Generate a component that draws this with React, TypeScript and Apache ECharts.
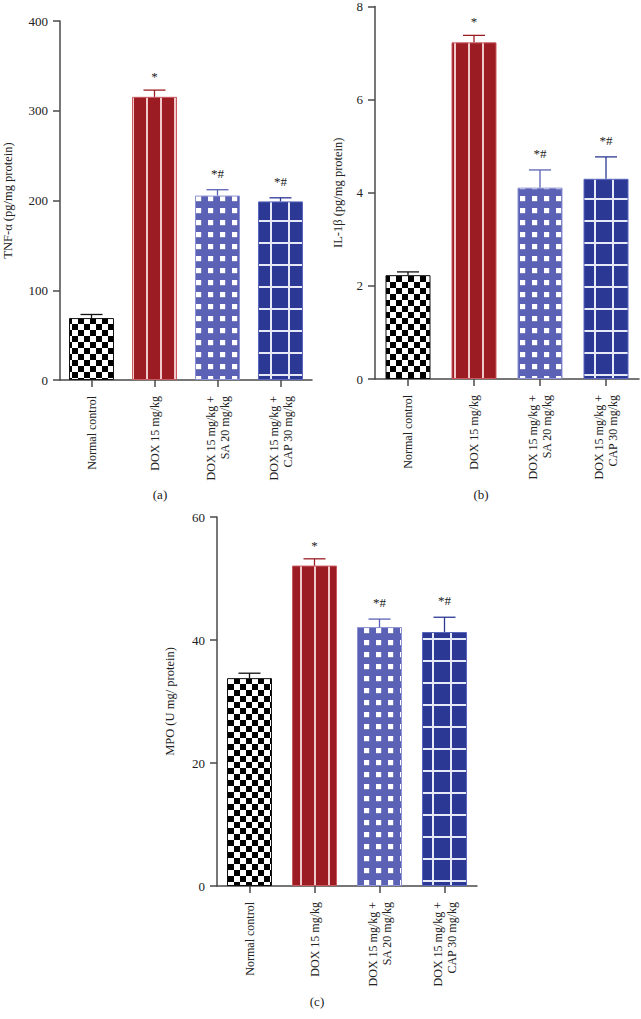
import React, { useEffect, useRef } from "react";
import * as echarts from "echarts";

const categories = ["Normal control", "DOX 15 mg/kg", "DOX 15 mg/kg +\nSA 20 mg/kg", "DOX 15 mg/kg +\nCAP 30 mg/kg"];

const tnfValues = [69, 315.5, 205.5, 199];
const tnfCaps = [73, 323, 212, 203];
const tnfSig = ["", "*", "*#", "*#"];
const tnfTicks = { min: 0, max: 400, interval: 100 };

const ilValues = [2.23, 7.23, 4.11, 4.3];
const ilCaps = [2.3, 7.38, 4.49, 4.77];
const ilSig = ["", "*", "*#", "*#"];
const ilTicks = { min: 0, max: 8, interval: 2 };

const mpoValues = [33.8, 52.1, 42.1, 41.3];
const mpoCaps = [34.6, 53.2, 43.4, 43.7];
const mpoSig = ["", "*", "*#", "*#"];
const mpoTicks = { min: 0, max: 60, interval: 20 };

const panelTitles = ["TNF-α (pg/mg protein)", "IL-1β (pg/mg protein)", "MPO (U mg/ protein)"];
const panelCaptions = ["(a)", "(b)", "(c)"];

const FONT = "'Liberation Serif', 'DejaVu Serif', serif";
const errColors = ["#111111", "#9b1c22", "#5b61b5", "#2b3894"];
const borderColors = ["#111111", "#c95a60", "#8c91d2", "#5966bb"];

// canvases are drawn at 2x because the svg pattern shows them at half size
function makeCanvas(w: number, h: number, draw: (c: CanvasRenderingContext2D) => void) {
  const cv = document.createElement("canvas");
  cv.width = w * 2;
  cv.height = h * 2;
  const ctx = cv.getContext("2d")!;
  ctx.scale(2, 2);
  draw(ctx);
  return cv;
}

export default function App() {
  const ref = useRef<HTMLDivElement>(null);
  useEffect(() => {
    if (!ref.current) return;
    const chart = echarts.init(ref.current, undefined, { renderer: "svg" });

    const checker = makeCanvas(6, 6, (c) => {
      c.fillStyle = "#ffffff";
      c.fillRect(0, 0, 6, 6);
      c.fillStyle = "#000000";
      c.fillRect(0, 0, 3, 3);
      c.fillRect(3, 3, 3, 3);
    });
    const stripes = makeCanvas(7, 4, (c) => {
      c.fillStyle = "#9b1c22";
      c.fillRect(0, 0, 7, 4);
      c.fillStyle = "#f2c9cb";
      c.fillRect(3, 0, 1, 4);
    });
    const dots = makeCanvas(6, 6, (c) => {
      c.fillStyle = "#5b61b5";
      c.fillRect(0, 0, 6, 6);
      c.fillStyle = "#ffffff";
      c.fillRect(2, 2, 2.6, 2.6);
    });
    const grid = makeCanvas(9, 11, (c) => {
      c.fillStyle = "#2b3894";
      c.fillRect(0, 0, 9, 11);
      c.fillStyle = "#e6e9f7";
      c.fillRect(0, 0, 1, 11);
      c.fillRect(0, 0, 9, 1);
    });
    const patterns = [checker, stripes, dots, grid];

    const panels = [
      { values: tnfValues, caps: tnfCaps, sig: tnfSig, ticks: tnfTicks, grid: { left: 59, top: 21, width: 253, height: 359 }, nameGap: 46 },
      { values: ilValues, caps: ilCaps, sig: ilSig, ticks: ilTicks, grid: { left: 375, top: 3, width: 264, height: 376 }, nameGap: 31 },
      { values: mpoValues, caps: mpoCaps, sig: mpoSig, ticks: mpoTicks, grid: { left: 217, top: 517, width: 260, height: 369 }, nameGap: 41 },
    ];

    const axisLine = { show: true, lineStyle: { color: "#4a4a4a", width: 1.5 } };

    const option: any = {
      animation: false,
      backgroundColor: "#ffffff",
      grid: panels.map((p) => ({ ...p.grid, containLabel: false })),
      xAxis: panels.map((p, k) => ({
        type: "category",
        gridIndex: k,
        data: categories,
        boundaryGap: true,
        axisLine,
        axisTick: { show: true, alignWithLabel: true, length: 7, lineStyle: { color: "#4a4a4a", width: 1.5 } },
        axisLabel: { rotate: 90, margin: 16, fontFamily: FONT, fontSize: 12, color: "#222", lineHeight: 14, interval: 0 },
      })),
      yAxis: panels.map((p, k) => ({
        type: "value",
        gridIndex: k,
        min: p.ticks.min,
        max: p.ticks.max,
        interval: p.ticks.interval,
        splitLine: { show: false },
        axisLine,
        axisTick: { show: true, length: 7, lineStyle: { color: "#4a4a4a", width: 1.5 } },
        axisLabel: { margin: 12, fontFamily: FONT, fontSize: 13, color: "#222" },
        name: panelTitles[k],
        nameLocation: "middle",
        nameGap: p.nameGap,
        nameTextStyle: { fontFamily: FONT, fontSize: 12.5, color: "#222" },
      })),
      series: [
        ...panels.map((p, k) => ({
          type: "bar",
          xAxisIndex: k,
          yAxisIndex: k,
          barWidth: 45,
          data: p.values.map((v, i) => ({
            value: v,
            itemStyle: {
              color: { image: patterns[i], repeat: "repeat" },
              borderColor: borderColors[i],
              borderWidth: 1,
            },
          })),
        })),
        ...panels.map((p, k) => ({
          type: "custom",
          xAxisIndex: k,
          yAxisIndex: k,
          z: 5,
          data: p.values.map((v, i) => [i, v, p.caps[i]]),
          renderItem: (params: any, api: any) => {
            const i = params.dataIndex;
            const top = api.coord([i, p.values[i]]);
            const cap = api.coord([i, p.caps[i]]);
            const col = errColors[i];
            const children: any[] = [
              { type: "line", shape: { x1: top[0], y1: top[1], x2: cap[0], y2: cap[1] }, style: { stroke: col, lineWidth: 1.3 } },
              { type: "line", shape: { x1: cap[0] - 11, y1: cap[1], x2: cap[0] + 11, y2: cap[1] }, style: { stroke: col, lineWidth: 1.3 } },
            ];
            if (p.sig[i]) {
              children.push({
                type: "text",
                x: cap[0],
                y: cap[1] - (p.sig[i].length > 1 ? 10 : 7),
                style: { text: p.sig[i], fontFamily: FONT, fontSize: 13, fill: "#222", align: "center", verticalAlign: "bottom" },
              });
            }
            return { type: "group", children };
          },
        })),
      ],
      graphic: [
        { type: "text", x: 160, y: 494, style: { text: panelCaptions[0], fontFamily: FONT, fontSize: 13, fill: "#222", align: "center", verticalAlign: "middle" } },
        { type: "text", x: 481, y: 494, style: { text: panelCaptions[1], fontFamily: FONT, fontSize: 13, fill: "#222", align: "center", verticalAlign: "middle" } },
        { type: "text", x: 317, y: 1001, style: { text: panelCaptions[2], fontFamily: FONT, fontSize: 13, fill: "#222", align: "center", verticalAlign: "middle" } },
      ],
    };
    chart.setOption(option);
    return () => chart.dispose();
  }, []);
  return <div ref={ref} style={{ position: "absolute", left: 0, top: 0, width: 641, height: 1019 }} />;
}
